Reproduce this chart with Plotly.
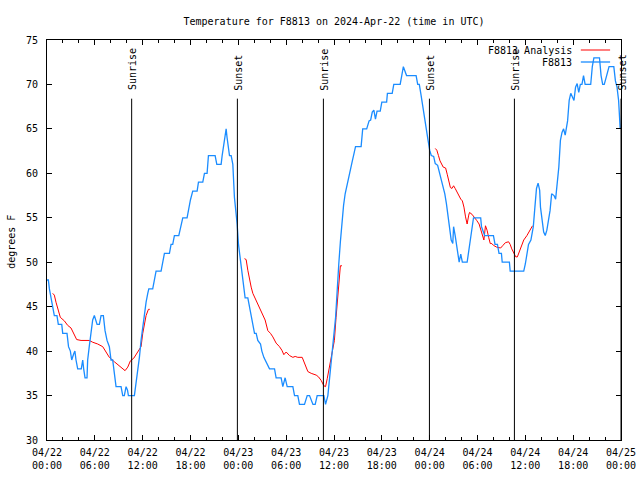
import plotly.graph_objects as go
import pandas as pd

BASE = pd.Timestamp("2024-04-22 00:00")

# Observed temperature (F8813), hours after 04/22 00:00 UTC
blue_hours = [0.0, 0.17, 0.3, 0.5, 0.7, 0.92, 1.25, 1.42, 1.85, 1.97, 2.51, 2.7, 2.93, 3.1, 3.35, 3.5, 3.64, 3.85, 4.3, 4.48,
              4.6, 4.77, 5.02, 5.1, 5.3, 5.52, 5.73, 5.94, 6.15, 6.28, 6.57, 6.78, 7.07, 7.28, 7.53, 7.82, 8.03, 8.24, 8.45, 8.66,
              9.29, 9.5, 9.7, 9.92, 10.1, 10.21, 10.96, 11.17, 11.38, 11.59, 11.8, 12.0, 12.22, 12.43, 12.64, 12.77, 13.26, 13.47, 13.68, 14.31,
              14.52, 14.73, 15.36, 15.56, 15.77, 15.98, 16.53, 16.82, 17.03, 17.57, 17.74, 17.99, 18.28, 18.83, 19.0, 19.54, 19.75, 20.08, 20.25, 21.09,
              21.3, 21.84, 21.97, 22.26, 22.47, 22.59, 22.89, 23.1, 23.31, 23.51, 23.72, 23.85, 24.02, 24.23, 24.44, 24.64, 24.85, 25.19, 25.4, 25.61,
              25.82, 26.03, 26.24, 26.44, 26.78, 26.95, 27.2, 27.49, 27.7, 27.91, 28.54, 28.74, 29.37, 29.58, 29.87, 30.13, 30.84, 31.05, 31.46, 31.67,
              32.3, 32.64, 32.93, 33.36, 33.64, 33.89, 34.73, 34.94, 35.23, 35.45, 35.7, 36.0, 36.2, 36.3, 36.5, 36.6, 36.8, 37.0, 37.2, 37.4,
              37.6, 37.9, 38.1, 38.3, 38.5, 38.7, 39.4, 39.6, 40.1, 40.4, 40.6, 40.8, 41.0, 41.2, 41.4, 41.8, 42.0, 42.6, 42.7, 43.3,
              43.5, 44.3, 44.5, 44.7, 45.1, 46.3, 46.5, 46.7, 46.9, 47.2, 47.4, 47.6, 47.8, 48.0, 48.2, 48.5, 48.7, 49.0, 49.3, 49.6,
              49.9, 50.1, 50.3, 50.5, 50.7, 50.9, 51.0, 51.2, 51.4, 51.5, 51.7, 51.9, 52.1, 52.7, 52.9, 53.1, 53.3, 53.5, 54.4, 54.5,
              54.9, 56.0, 56.2, 56.5, 56.7, 57.0, 57.1, 58.0, 58.1, 59.8, 60.0, 60.2, 60.4, 60.7, 61.0, 61.2, 61.4, 61.6, 61.8, 61.9,
              62.1, 62.3, 62.5, 62.7, 62.9, 63.1, 63.3, 63.6, 63.8, 64.0, 64.2, 64.4, 64.6, 64.8, 65.0, 65.3, 65.5, 65.7, 65.9, 66.1,
              66.3, 66.5, 66.7, 66.9, 67.1, 67.3, 67.5, 68.2, 68.4, 68.6, 69.3, 69.5, 69.7, 69.9, 70.2, 70.5, 71.1, 71.3, 71.5, 71.7,
              71.9]
blue_temps = [48, 48, 47, 46, 45, 44, 44, 43, 43, 42, 42, 40.5, 40, 39, 39.7, 40, 39, 38, 38, 39,
              38, 37, 37, 39, 40.5, 42, 43.5, 44, 43.5, 43, 43, 44, 44, 42.3, 41.2, 40.5, 39, 39, 37.5, 36,
              36, 35, 35, 36, 35.6, 35, 35, 36.3, 37.8, 39.3, 41.2, 42.7, 44.2, 45.5, 46.5, 47, 47, 48, 49, 49,
              50, 51, 51, 52, 52, 53, 53, 54, 55, 55, 56, 57, 58, 58, 59, 59, 60, 60, 62, 62,
              61, 61, 62, 64, 65, 64, 62, 62, 61, 57.3, 55.8, 54.3, 52, 50.6, 49.3, 47.6, 46, 46, 45, 43.8,
              43, 42, 42, 41.2, 40.8, 40, 39.3, 38.8, 38.4, 38, 38, 37, 37, 36, 37, 36, 36, 35, 35, 34,
              34, 35, 35, 34, 34, 35, 35, 34, 35, 37, 39.5, 41.6, 43.8, 45.3, 47.6, 49.8, 52.3, 54.7, 56.4, 57.7,
              58.6, 59.6, 60.5, 61.4, 62.2, 63, 63, 65, 65, 65.9, 66, 66.9, 67.1, 66.1, 67, 67, 68, 68, 69, 69,
              70, 70, 71, 72, 71, 71, 70, 70, 68.9, 67, 65.9, 64.8, 63.7, 62.6, 62, 61.9, 61.1, 60.9, 59.8, 58.8,
              57.7, 56.6, 55.1, 53.6, 52.5, 52.1, 54, 53, 51.7, 50.9, 50, 50.9, 50, 50, 51.3, 53, 54, 55, 55, 54,
              53, 53, 52, 52, 51, 51, 50, 50, 49, 49, 49.8, 51, 52, 52.5, 54, 56.2, 58.3, 58.9, 58.1, 56.2,
              54.7, 53.4, 53, 53.6, 54.7, 55.8, 57.7, 57.5, 57.1, 58.8, 60.7, 63.7, 64.6, 65, 64.3, 65.9, 68.2, 69, 68.6, 68.2,
              69.7, 70.1, 69.1, 70, 70, 71, 70, 70, 72, 73, 73, 71, 70, 70, 71, 72, 72, 70.4, 69.7, 68.2,
              65]

# Analysis (F8813 Analysis), three segments separated by gaps
red_hours = [0.71, 0.92, 1.13, 1.34, 1.67, 2.18, 2.59, 3.01, 3.35, 3.72, 4.27, 5.31, 5.73, 6.36, 6.99, 7.41, 7.82, 8.45, 9.08, 9.79,
             10.13, 10.46, 10.88, 11.38, 11.8, 12.01, 12.22, 12.43, 12.72, 12.89, None,
             24.77, 24.98, 25.19, 25.4, 25.61, 25.82, 26.03, 26.44, 26.78, 27.07, 27.36, 27.7, 28.03, 28.33, 28.74, 29.16, 29.46, 29.71, 30.0, 30.42,
             30.84, 31.13, 31.46, 32.01, 32.3, 32.72, 33.14, 33.77, 34.06, 34.39, 34.73, 34.94, 35.15, 35.44, 35.7, 36.05, 36.26, 36.47, 36.6, 36.7,
             36.8, 37.0, None,
             48.7, 48.9, 49.1, 49.3, 49.7, 50.0, 50.2, 50.4, 50.6, 50.8, 51.0, 51.2, 51.4, 51.7, 51.9, 52.1, 52.3, 52.5, 52.7, 52.9,
             53.0, 53.3, 53.6, 53.9, 54.2, 54.4, 54.6, 54.8, 55.0, 55.2, 55.4, 55.6, 55.8, 56.0, 56.4, 56.9, 57.2, 57.5, 57.9, 58.1,
             58.3, 58.6, 58.8, 59.0, 59.2, 59.4, 59.8, 60.2, 60.6, 60.9]
red_temps = [46.5, 46.3, 45.5, 44.8, 43.8, 43.4, 42.9, 42.6, 42, 41.3, 41.2, 41.2, 41, 40.8, 40.5, 39.9, 39.3, 38.8, 38.3, 37.8,
             38.2, 38.9, 39.2, 39.9, 40.5, 42, 43.1, 44, 44.7, 44.7, None,
             50.4, 50.3, 49.1, 48, 47.2, 46.5, 46.1, 45.3, 44.6, 44.2, 43.5, 42.3, 42, 41.6, 40.9, 40.5, 40.1, 39.6, 39.9, 39.5,
             39.3, 39.4, 39.3, 39.3, 38.6, 37.7, 37.5, 37.3, 37.1, 36.7, 36.1, 36, 36.9, 38.2, 39.3, 41.2, 43.8, 46.1, 47.6, 49.1,
             49.6, 49.6, None,
             62.8, 62.6, 62, 61.4, 60.7, 60.6, 59.9, 59.2, 58.4, 58.3, 58.6, 58.3, 57.9, 57.3, 57.1, 56.9, 56.2, 55.1, 54.3, 55.3,
             55.6, 55.4, 55.1, 54.7, 54.3, 53.6, 53, 52.5, 54.1, 53.6, 52.8, 52.1, 52.1, 51.9, 51.7, 51.6, 51.9, 52.2, 52.3, 52,
             51.5, 51, 50.6, 50.6, 51.1, 51.7, 52.5, 53, 53.6, 54.1]

sun_labels = ["Sunrise", "Sunset", "Sunrise", "Sunset", "Sunrise", "Sunset"]
sun_hours = [10.62, 23.88, 34.67, 47.97, 58.63, 72.0]

tick_hours = [0, 6, 12, 18, 24, 30, 36, 42, 48, 54, 60, 66, 72]
tick_labels = ["04/22<br>00:00", "04/22<br>06:00", "04/22<br>12:00", "04/22<br>18:00",
               "04/23<br>00:00", "04/23<br>06:00", "04/23<br>12:00", "04/23<br>18:00",
               "04/24<br>00:00", "04/24<br>06:00", "04/24<br>12:00", "04/24<br>18:00",
               "04/25<br>00:00"]

series_names = ["F8813 Analysis", "F8813"]
RED = "#ff0000"
BLUE = "#1a8cff"
FONT = "DejaVu Sans Mono"


def to_time(hours):
    return [None if h is None else BASE + pd.Timedelta(hours=h) for h in hours]


fig = go.Figure()
fig.add_trace(go.Scatter(x=to_time(red_hours), y=red_temps, mode="lines", name=series_names[0],
                         line=dict(color=RED, width=1), connectgaps=False, showlegend=False))
fig.add_trace(go.Scatter(x=to_time(blue_hours), y=blue_temps, mode="lines", name=series_names[1],
                         line=dict(color=BLUE, width=1.3), showlegend=False))

# Sunrise / sunset markers
for lab, h in zip(sun_labels, sun_hours):
    t = BASE + pd.Timedelta(hours=h)
    fig.add_shape(type="line", xref="x", yref="y", x0=t, x1=t, y0=30, y1=68.4,
                  line=dict(color="black", width=1))
    fig.add_annotation(x=t, y=69.1, xref="x", yref="y", text=lab, textangle=-90,
                       showarrow=False, xanchor="center", yanchor="bottom", xshift=1,
                       font=dict(family=FONT, size=10, color="black"))

# gnuplot-style key (text left of sample line)
for i, (name, col) in enumerate(zip(series_names, [RED, BLUE])):
    yp = 0.975 - i * 0.03
    fig.add_annotation(x=0.918, y=yp, xref="paper", yref="paper", text=name, showarrow=False,
                       xanchor="right", yanchor="middle", font=dict(family=FONT, size=10, color="black"))
    fig.add_shape(type="line", xref="paper", yref="paper", x0=0.930, x1=0.981, y0=yp, y1=yp,
                  line=dict(color=col, width=1 if i == 0 else 1.3))

# y-axis title
fig.add_annotation(x=-0.063, y=0.495, xref="paper", yref="paper", text="degrees F", textangle=-90,
                   showarrow=False, xanchor="center", yanchor="middle",
                   font=dict(family=FONT, size=10, color="black"))

fig.update_layout(
    width=640, height=480,
    margin=dict(l=47, r=19, t=40, b=40, autoexpand=False),
    paper_bgcolor="white", plot_bgcolor="white",
    font=dict(family=FONT, size=10, color="black"),
    title=dict(text="Temperature for F8813 on 2024-Apr-22 (time in UTC)", x=0.5, xref="paper",
               y=1 - 21 / 480, yref="container", yanchor="middle", xanchor="center",
               font=dict(family=FONT, size=10, color="black")),
    showlegend=False,
)
fig.update_xaxes(
    range=[BASE, BASE + pd.Timedelta(hours=72)],
    tickmode="array", tickvals=to_time(tick_hours), ticktext=tick_labels,
    ticks="inside", ticklen=5, tickcolor="black", tickwidth=1,
    showline=True, linecolor="black", linewidth=1, mirror="ticks",
    showgrid=False, zeroline=False, automargin=False, ticklabelstandoff=3,
    minor=dict(dtick=2 * 3600 * 1000, tick0=BASE, ticks="inside", ticklen=3, tickcolor="black", showgrid=False),
    tickfont=dict(family=FONT, size=10, color="black"),
)
fig.update_yaxes(
    range=[30, 75], dtick=5, tick0=30,
    ticks="inside", ticklen=5, tickcolor="black", tickwidth=1,
    showline=True, linecolor="black", linewidth=1, mirror="ticks",
    showgrid=False, zeroline=False, automargin=False, ticklabelstandoff=6,
    tickfont=dict(family=FONT, size=10, color="black"),
)

fig.write_html("out.html", config={"displayModeBar": False},
               post_script="document.body.style.margin='0';document.body.style.overflow='hidden';")
